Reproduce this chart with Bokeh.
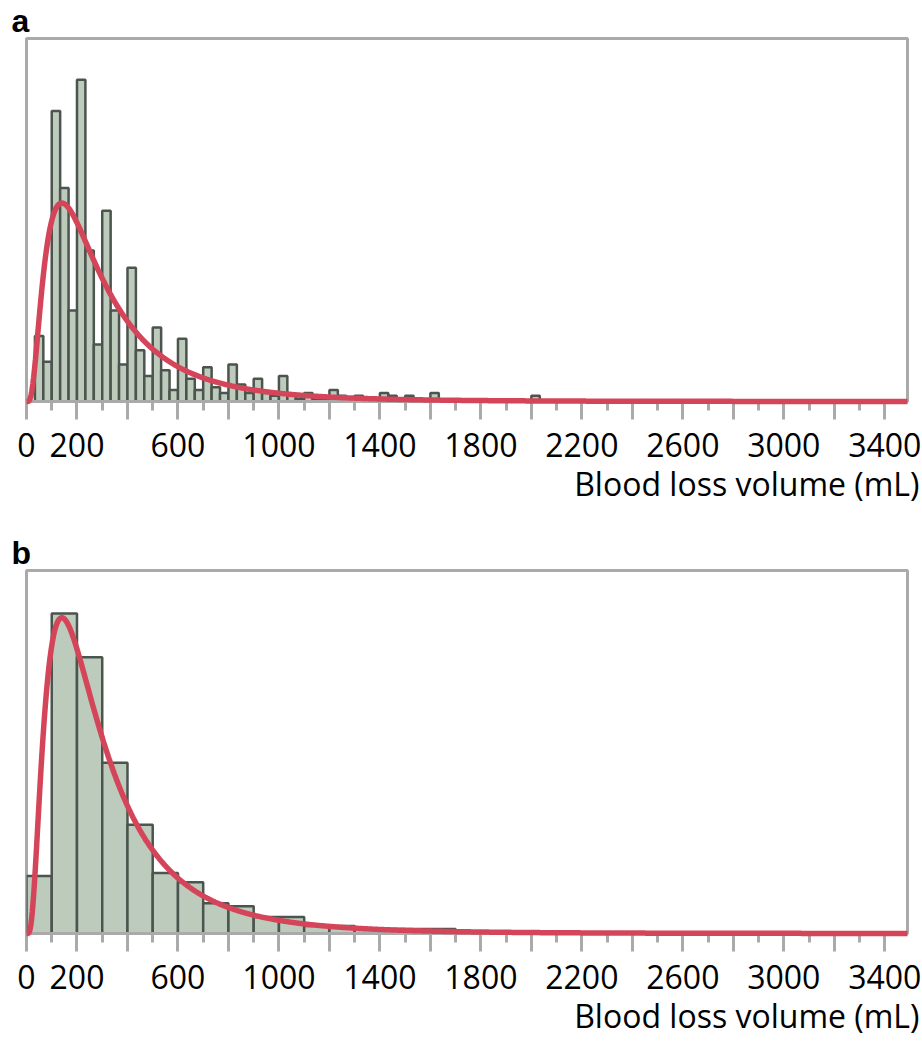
import math
import numpy as np
from bokeh.plotting import figure
from bokeh.models import Range1d, SingleIntervalTicker, Title, ColumnDataSource
from bokeh.layouts import column
from bokeh.embed import file_html
from bokeh.resources import INLINE

# ---------------- data ----------------
# panel a: bins of 100/3 mL starting at 0 (counts)
a_bin_width = 100.0 / 3.0
a_counts = [0, 23, 14, 102, 75, 32, 113, 53, 20, 67,
            32, 13, 47, 18, 9, 26, 11, 4, 22, 8,
            4, 12, 5, 3, 13, 6, 3, 8, 3, 2,
            9, 2, 1, 3, 1, 1, 4, 2, 0, 2,
            0, 0, 3, 2, 0, 2, 0, 0, 3, 0,
            0, 0, 0, 0, 0, 0, 0, 0, 0, 0,
            2]
a_ymax = 127.5

# panel b: bins of 100 mL starting at 0
b_bin_width = 100.0
b_counts = [38, 212, 183, 113, 72, 40, 34, 20, 18, 11,
            11, 5, 5, 3, 3, 3, 3]
b_ymax = 240.4

# fitted log-normal density (parameters)
fit_mode = 140.0
fit_sigma = 0.78
fit_n = 776

x_ticks_major = 200
x_label_hidden = [400, 800, 1200, 1600, 2000, 2400, 2800, 3200]
x_max = 3490
x_title = "Blood loss volume (mL)"

FILL = "#bccbbc"
EDGE = "#4b544d"
CURVE = "#d5455a"
FRAME = "#aaaaaa"
FONT = "Open Sans"


def make_panel(letter, counts, bw, ymax, left, height, bottom):
    p = figure(width=922, height=height,
               x_range=Range1d(0, x_max), y_range=Range1d(0, ymax),
               y_axis_location=None, toolbar_location=None,
               output_backend="svg",
               min_border_left=left, min_border_right=15,
               min_border_top=0, min_border_bottom=bottom)
    p.xgrid.visible = False
    p.ygrid.visible = False
    p.outline_line_color = FRAME
    p.outline_line_width = 3

    lefts = [i * bw for i, c in enumerate(counts) if c > 0]
    tops = [c for c in counts if c > 0]
    src = ColumnDataSource(dict(left=lefts, right=[l + bw for l in lefts],
                                top=tops, bottom=[0] * len(tops)))
    p.quad(left="left", right="right", top="top", bottom="bottom", source=src,
           fill_color=FILL, line_color=EDGE, line_width=2.5)

    mu = math.log(fit_mode) + fit_sigma ** 2
    xs = np.linspace(0.5, x_max, 1400)
    pdf = np.exp(-(np.log(xs) - mu) ** 2 / (2 * fit_sigma ** 2)) / (xs * fit_sigma * math.sqrt(2 * math.pi))
    ys = fit_n * bw * pdf
    xs = np.concatenate([[0.0], xs])
    ys = np.concatenate([[0.0], ys])
    p.line(xs, ys, line_color=CURVE, line_width=5.5, level="overlay")

    ax = p.xaxis[0]
    ax.ticker = SingleIntervalTicker(interval=x_ticks_major, num_minor_ticks=2)
    ax.major_label_overrides = {v: "" for v in x_label_hidden}
    ax.axis_line_color = FRAME
    ax.axis_line_width = 3
    ax.major_tick_line_color = FRAME
    ax.major_tick_line_width = 3
    ax.minor_tick_line_color = FRAME
    ax.minor_tick_line_width = 3
    ax.major_tick_in = 0
    ax.major_tick_out = 18
    ax.minor_tick_in = 0
    ax.minor_tick_out = 9
    ax.major_label_standoff = 13
    ax.major_label_text_font = FONT
    ax.major_label_text_font_size = "32px"
    ax.major_label_text_color = "black"

    t = Title(text=x_title, align="right", offset=-12, standoff=0,
              text_font=FONT, text_font_size="32px", text_font_style="normal",
              text_color="black")
    p.add_layout(t, "below")

    p.title.text = letter
    p.title.text_font = "Liberation Sans"
    p.title.text_font_style = "bold"
    p.title.text_font_size = "32px"
    p.title.text_color = "black"
    p.title.align = "left"
    p.title.offset = -15
    p.title.standoff = 0
    return p


p1 = make_panel("a", a_counts, a_bin_width, a_ymax, 26, 532, 131)
p2 = make_panel("b", b_counts, b_bin_width, b_ymax, 24, 510, 109)

layout = column(p1, p2, spacing=0)
open("out.html", "w").write(file_html(layout, INLINE))
